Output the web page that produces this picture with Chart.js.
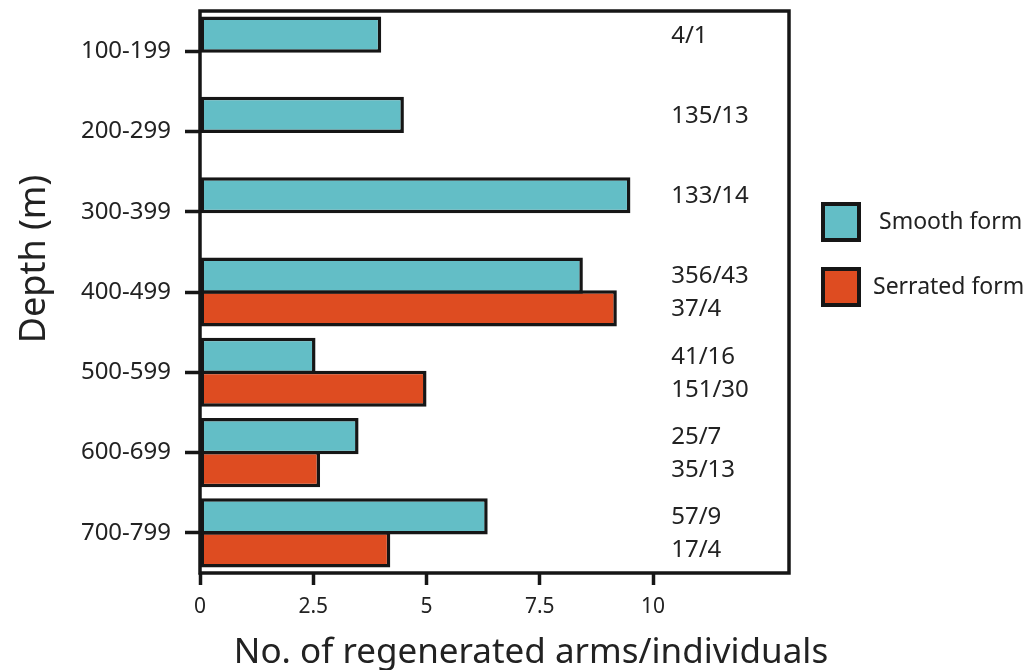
<!DOCTYPE html>
<html>
<head>
<meta charset="utf-8">
<script src="https://cdn.jsdelivr.net/npm/chart.js@4"></script>
<style>
  html, body { margin: 0; padding: 0; background: #fff; }
</style>
</head>
<body>
<canvas id="c" width="1030" height="670"></canvas>
<script>
const depths = ['100-199', '200-299', '300-399', '400-499', '500-599', '600-699', '700-799'];
const smooth = [4.0, 4.5, 9.5, 8.45, 2.55, 3.5, 6.35];
const serrated = [null, null, null, 9.2, 5.0, 2.65, 4.2];
const smoothCounts = ['4/1', '135/13', '133/14', '356/43', '41/16', '25/7', '57/9'];
const serratedCounts = [null, null, null, '37/4', '151/30', '35/13', '17/4'];
const xTicks = [0, 2.5, 5, 7.5, 10];

const ink = '#161616';
const textCol = '#222';
const font = '"Noto Sans", sans-serif';

// frame, count labels, legend and axis titles
const extras = {
  id: 'extras',
  afterDatasetsDraw(chart) {
    const ctx = chart.ctx;
    const a = chart.chartArea;
    ctx.save();
    ctx.strokeStyle = ink;
    ctx.lineWidth = 3.5;
    ctx.strokeRect(a.left, a.top, a.right - a.left, a.bottom - a.top);

    const x = chart.scales.x.getPixelForValue(10.4);
    ctx.font = '24px ' + font;
    ctx.fillStyle = textCol;
    ctx.textBaseline = 'middle';
    ctx.textAlign = 'left';
    [smoothCounts, serratedCounts].forEach((arr, di) => {
      const meta = chart.getDatasetMeta(di);
      arr.forEach((t, i) => {
        if (t) ctx.fillText(t, x, meta.data[i].y + 1);
      });
    });
    ctx.restore();
  },
  afterDraw(chart) {
    const ctx = chart.ctx;
    ctx.save();
    // legend
    chart.data.datasets.forEach((ds, i) => {
      const bx = 823, by = 204 + i * 65;
      ctx.fillStyle = ds.backgroundColor;
      ctx.fillRect(bx, by, 36, 36);
      ctx.strokeStyle = ink;
      ctx.lineWidth = 4;
      ctx.strokeRect(bx, by, 36, 36);
      ctx.fillStyle = textCol;
      ctx.font = '23px ' + font;
      ctx.textBaseline = 'middle';
      ctx.textAlign = 'left';
      ctx.fillText(ds.label, i === 0 ? 879 : 873, by + 18);
    });
    // axis titles
    ctx.font = '35px ' + font;
    ctx.fillStyle = textCol;
    ctx.textAlign = 'center';
    ctx.textBaseline = 'alphabetic';
    ctx.fillText('No. of regenerated arms/individuals', 531, 663);
    ctx.translate(45, 259);
    ctx.rotate(-Math.PI / 2);
    ctx.font = '36px ' + font;
    ctx.fillText('Depth (m)', 0, 0);
    ctx.restore();
  }
};

new Chart(document.getElementById('c'), {
  type: 'bar',
  data: {
    labels: depths,
    datasets: [{
      label: 'Smooth form',
      data: smooth,
      backgroundColor: '#63bec6',
      borderColor: ink,
      borderWidth: 3.5,
      borderSkipped: false,
      categoryPercentage: 0.82,
      barPercentage: 1.1
    }, {
      label: 'Serrated form',
      data: serrated,
      backgroundColor: '#de4c21',
      borderColor: ink,
      borderWidth: 3.5,
      borderSkipped: false,
      categoryPercentage: 0.82,
      barPercentage: 1.1
    }]
  },
  options: {
    indexAxis: 'y',
    responsive: false,
    animation: false,
    devicePixelRatio: 1,
    layout: { padding: { top: 11, right: 241, left: 0, bottom: 0 } },
    plugins: {
      legend: { display: false },
      tooltip: { enabled: false }
    },
    scales: {
      x: {
        min: 0,
        max: 13,
        afterBuildTicks: s => { s.ticks = xTicks.map(v => ({ value: v })); },
        afterFit: s => { s.height = 97; s.paddingLeft = 0; s.paddingRight = 0; },
        border: { display: false },
        grid: { drawOnChartArea: false, tickLength: 12, tickWidth: 3.5, tickColor: ink },
        ticks: { color: textCol, font: { family: font, size: 21 }, padding: 9, maxRotation: 0 }
      },
      y: {
        afterFit: s => { s.width = 200; s.paddingTop = 0; s.paddingBottom = 0; },
        border: { display: false },
        grid: { drawOnChartArea: false, offset: false, tickLength: 15, tickWidth: 3.5, tickColor: ink },
        ticks: { color: textCol, font: { family: font, size: 24 }, padding: 14 }
      }
    }
  },
  plugins: [extras]
});
</script>
</body>
</html>
